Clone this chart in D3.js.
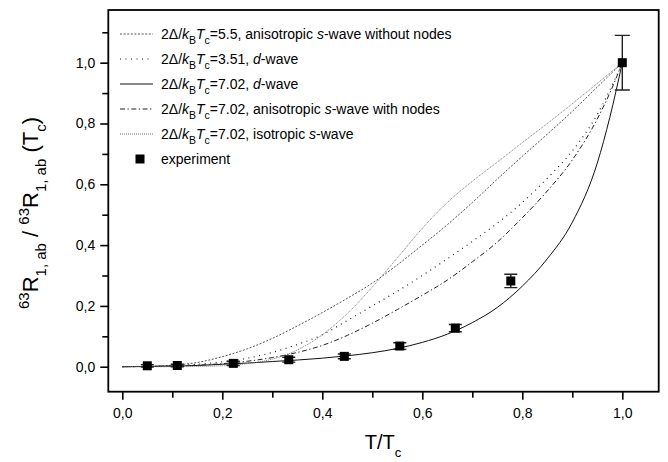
<!DOCTYPE html>
<html>
<head>
<meta charset="utf-8">
<script src="https://cdn.jsdelivr.net/npm/d3@7"></script>
<style>
  html, body { margin: 0; padding: 0; background: #fff; }
  svg { display: block; font-family: "Liberation Sans", Arial, sans-serif; }
</style>
</head>
<body>
<svg id="chart" width="668" height="462"></svg>
<script>
// Reduced temperature grid for the model curves
const tGrid = [0, 0.05, 0.1, 0.15, 0.2, 0.25, 0.3, 0.35, 0.4, 0.45, 0.5,
               0.55, 0.6, 0.65, 0.7, 0.75, 0.8, 0.85, 0.9, 0.95, 0.975, 1.0];

// Relaxation-rate ratio for each gap model
const sAnisoNoNodes55 = [0, 0.001, 0.005, 0.014, 0.033, 0.059, 0.093, 0.134, 0.178, 0.225, 0.275,
                         0.335, 0.4, 0.467, 0.54, 0.617, 0.692, 0.765, 0.84, 0.92, 0.96, 1.0];
const dWave351 = [0, 0.001, 0.003, 0.008, 0.016, 0.028, 0.047, 0.073, 0.105, 0.152, 0.2,
                  0.248, 0.3, 0.355, 0.412, 0.472, 0.54, 0.62, 0.71, 0.83, 0.91, 1.0];
const dWave702 = [0, 0.001, 0.002, 0.004, 0.008, 0.012, 0.017, 0.022, 0.028, 0.036, 0.046,
                  0.06, 0.08, 0.107, 0.145, 0.195, 0.265, 0.355, 0.475, 0.67, 0.82, 1.0];
const sAnisoNodes702 = [0, 0.001, 0.002, 0.005, 0.01, 0.018, 0.03, 0.047, 0.07, 0.103, 0.143,
                        0.188, 0.235, 0.285, 0.345, 0.41, 0.49, 0.578, 0.68, 0.815, 0.9, 1.0];
const sIso702 = [0, 0, 0, 0.001, 0.003, 0.01, 0.025, 0.055, 0.105, 0.175, 0.262,
                 0.358, 0.455, 0.54, 0.61, 0.673, 0.737, 0.8, 0.865, 0.932, 0.966, 1.0];

// Measured points with error bars
const expT   = [0.05, 0.11, 0.222, 0.333, 0.444, 0.555, 0.666, 0.777, 1.0];
const expR   = [0.003, 0.004, 0.011, 0.023, 0.034, 0.068, 0.127, 0.282, 1.0];
const expErr = [0.004, 0.004, 0.007, 0.008, 0.008, 0.011, 0.012, 0.022, 0.09];

// Axis ticks
const xMajor = [0, 0.2, 0.4, 0.6, 0.8, 1.0];
const xMinor = [0.1, 0.3, 0.5, 0.7, 0.9];
const yMajor = [0, 0.2, 0.4, 0.6, 0.8, 1.0];
const yMinor = [0.1, 0.3, 0.5, 0.7, 0.9, 1.1];

const svg = d3.select("#chart");
const plot = { left: 108.3, right: 658.7, top: 10, bottom: 391.7 };

const x = d3.scaleLinear().domain([-0.028, 1.0728]).range([plot.left, plot.right]);
const y = d3.scaleLinear().domain([-0.0822, 1.1733]).range([plot.bottom, plot.top]);

const fmt = d => d3.format(".1f")(d).replace(".", ",");

svg.append("defs").append("clipPath").attr("id", "plotClip")
  .append("rect")
  .attr("x", plot.left).attr("y", plot.top)
  .attr("width", plot.right - plot.left).attr("height", plot.bottom - plot.top);

// Series definitions (style per gap model)
const series = [
  { values: sAnisoNoNodes55, stroke: "#555", dash: "2,1.6", width: 1 },
  { values: dWave351, stroke: "#222", dash: "1,4.5", width: 1.2 },
  { values: dWave702, stroke: "#111", dash: null, width: 1 },
  { values: sAnisoNodes702, stroke: "#222", dash: "5,2.5,1.3,2.5", width: 1 },
  { values: sIso702, stroke: "#777", dash: "1,1", width: 1 }
];

const line = d3.line()
  .x(d => x(d[0]))
  .y(d => y(d[1]))
  .curve(d3.curveMonotoneX);

const curves = svg.append("g").attr("clip-path", "url(#plotClip)");
series.forEach(s => {
  curves.append("path")
    .datum(tGrid.map((t, i) => [t, s.values[i]]))
    .attr("d", line)
    .attr("fill", "none")
    .attr("stroke", s.stroke)
    .attr("stroke-width", s.width)
    .attr("stroke-dasharray", s.dash);
});

// Experimental points
const pts = svg.append("g").attr("clip-path", "url(#plotClip)");
const cap = 6.5;
expT.forEach((t, i) => {
  const cx = x(t), cy = y(expR[i]);
  const y1 = y(expR[i] + expErr[i]), y2 = y(expR[i] - expErr[i]);
  const w = i === expT.length - 1 ? 7.5 : cap;
  pts.append("line").attr("x1", cx).attr("x2", cx).attr("y1", y1).attr("y2", y2)
    .attr("stroke", "#222").attr("stroke-width", 1.4);
  pts.append("line").attr("x1", cx - w).attr("x2", cx + w).attr("y1", y1).attr("y2", y1)
    .attr("stroke", "#222").attr("stroke-width", 1.4);
  pts.append("line").attr("x1", cx - w).attr("x2", cx + w).attr("y1", y2).attr("y2", y2)
    .attr("stroke", "#222").attr("stroke-width", 1.4);
  pts.append("rect").attr("x", cx - 4.5).attr("y", cy - 4.5)
    .attr("width", 9).attr("height", 9).attr("fill", "#000");
});

// Axes with outward ticks
svg.append("g").attr("transform", `translate(0,${plot.bottom})`)
  .call(d3.axisBottom(x).tickValues(xMajor).tickFormat(fmt).tickSize(8).tickPadding(8));
svg.append("g").attr("transform", `translate(0,${plot.bottom})`)
  .call(d3.axisBottom(x).tickValues(xMinor).tickFormat("").tickSize(6));
svg.append("g").attr("transform", `translate(${plot.left},0)`)
  .call(d3.axisLeft(y).tickValues(yMajor).tickFormat(fmt).tickSize(8).tickPadding(5));
svg.append("g").attr("transform", `translate(${plot.left},0)`)
  .call(d3.axisLeft(y).tickValues(yMinor).tickFormat("").tickSize(6));

svg.selectAll(".domain").remove();
svg.selectAll(".tick line").attr("stroke", "#000").attr("stroke-width", 1.6);
svg.selectAll(".tick text").attr("font-size", 14).attr("fill", "#000")
  .attr("font-family", "Liberation Sans, Arial, sans-serif");

// Plot frame
svg.append("rect")
  .attr("x", plot.left).attr("y", plot.top)
  .attr("width", plot.right - plot.left).attr("height", plot.bottom - plot.top)
  .attr("fill", "none").attr("stroke", "#000").attr("stroke-width", 1.8);

// Axis titles
const xt = svg.append("text").attr("x", 383).attr("y", 449)
  .attr("text-anchor", "middle").attr("font-size", 20);
xt.append("tspan").text("T/T");
xt.append("tspan").attr("dy", 8).attr("font-size", 13).text("c");

const yt = svg.append("text")
  .attr("transform", "translate(38,213) rotate(-90)")
  .attr("text-anchor", "middle").attr("font-size", 22);
yt.append("tspan").attr("dy", -9).attr("font-size", 15).text("63");
yt.append("tspan").attr("dy", 9).text("R");
yt.append("tspan").attr("dy", 8).attr("font-size", 15).text("1, ab");
yt.append("tspan").attr("dy", -8).text(" / ");
yt.append("tspan").attr("dy", -9).attr("font-size", 15).text("63");
yt.append("tspan").attr("dy", 9).text("R");
yt.append("tspan").attr("dy", 8).attr("font-size", 15).text("1, ab");
yt.append("tspan").attr("dy", -8).text(" (T");
yt.append("tspan").attr("dy", 8).attr("font-size", 15).text("c");
yt.append("tspan").attr("dy", -8).text(")");

// Legend
const legendLabels = [
  { ratio: "=5.5, ", rest: [["anisotropic ", false], ["s", true], ["-wave without nodes", false]] },
  { ratio: "=3.51, ", rest: [["d", true], ["-wave", false]] },
  { ratio: "=7.02, ", rest: [["d", true], ["-wave", false]] },
  { ratio: "=7.02, ", rest: [["anisotropic ", false], ["s", true], ["-wave with nodes", false]] },
  { ratio: "=7.02, ", rest: [["isotropic ", false], ["s", true], ["-wave", false]] }
];
const legend = svg.append("g");
const rowY = [34, 59, 84, 109, 134];
legendLabels.forEach((lab, i) => {
  const s = series[i];
  const ly = rowY[i];
  legend.append("line").attr("x1", 120).attr("x2", 153).attr("y1", ly).attr("y2", ly)
    .attr("stroke", s.stroke).attr("stroke-width", s.width)
    .attr("stroke-dasharray", s.dash);
  const tx = legend.append("text").attr("x", 161).attr("y", ly + 5).attr("font-size", 14);
  tx.append("tspan").text("2Δ/");
  tx.append("tspan").attr("font-style", "italic").text("k");
  tx.append("tspan").attr("dy", 5).attr("font-size", 10.5).text("B");
  tx.append("tspan").attr("dy", -5).attr("font-style", "italic").text("T");
  tx.append("tspan").attr("dy", 5).attr("font-size", 10.5).text("c");
  tx.append("tspan").attr("dy", -5).text(lab.ratio);
  lab.rest.forEach(([str, it]) => {
    const sp = tx.append("tspan").text(str);
    if (it) sp.attr("font-style", "italic");
  });
});
legend.append("rect").attr("x", 135.5).attr("y", 154.5).attr("width", 9).attr("height", 9).attr("fill", "#000");
legend.append("text").attr("x", 161).attr("y", 164).attr("font-size", 14).text("experiment");
</script>
</body>
</html>
